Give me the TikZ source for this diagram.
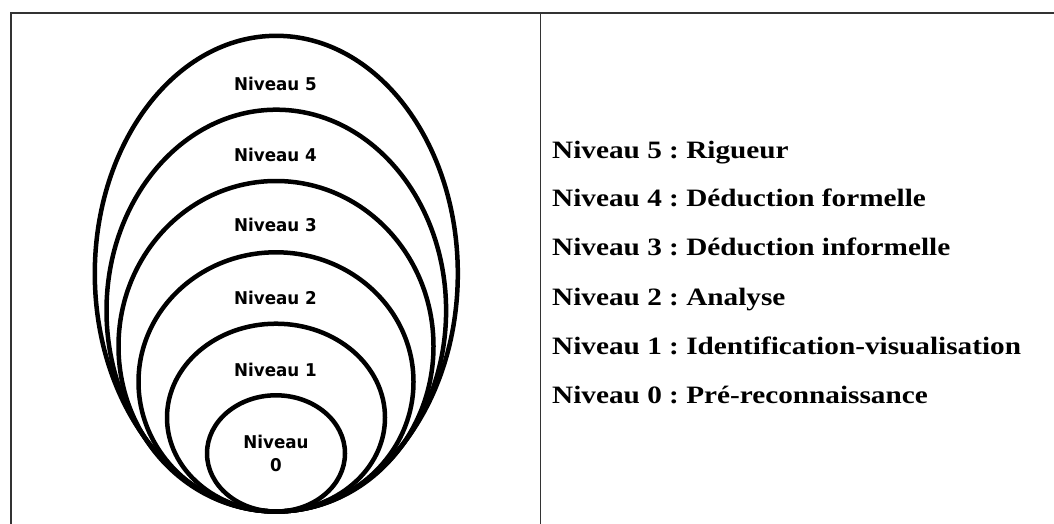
\documentclass[tikz,border=0pt]{standalone}
\usepackage{fontspec}
\usepackage{graphicx}
\newfontfamily\lblfont{DejaVu Sans}
\newfontfamily\rowfont{Liberation Serif}
\newcommand\lbl[1]{\scalebox{0.95}[1]{#1}}
\newcommand\rowtxt[1]{\scalebox{1.17}[1]{#1}}
\frenchspacing
\tikzset{
  rule/.style={draw=black!80, line width=1.4pt},
  lvl/.style={draw=black, line width=4.5pt},
  lbltext/.style={anchor=base, inner sep=0pt, font=\lblfont\bfseries\fontsize{17.6}{20}\selectfont},
  rowtext/.style={anchor=base west, inner sep=0pt, font=\rowfont\bfseries\fontsize{25}{30}\selectfont}
}
\begin{document}
\begin{tikzpicture}[x=1pt, y=-1pt]
\useasboundingbox (0,0) rectangle (1054,524);
% table rules
\coordinate (tl) at (10.8,13.2);
\coordinate (tr) at (1054,13.2);
\coordinate (bl) at (10.8,524);
\coordinate (tm) at (540.3,13.2);
\coordinate (bm) at (540.3,524);
\draw[rule] (bl) -- (tl) -- (tr);
\draw[rule] (tm) -- (bm);
% nested ellipses
\draw[lvl] (276.3,273.65) ellipse [x radius=181.5pt, y radius=237.85pt];
\draw[lvl] (276.3,310.6) ellipse [x radius=169.8pt, y radius=200.9pt];
\draw[lvl] (276,346.25) ellipse [x radius=157.5pt, y radius=165.25pt];
\draw[lvl] (276,381.9) ellipse [x radius=137.5pt, y radius=129.6pt];
\draw[lvl] (276,417.6) ellipse [x radius=109pt, y radius=93.9pt];
\draw[lvl] (276,453.4) ellipse [x radius=69pt, y radius=58.1pt];
% labels in ellipses
\node[lbltext] (l5) at (275.5,90.5) {\lbl{Niveau 5}};
\node[lbltext] (l4) at (275.5,161) {\lbl{Niveau 4}};
\node[lbltext] (l3) at (275.5,231.5) {\lbl{Niveau 3}};
\node[lbltext] (l2) at (275.5,304.5) {\lbl{Niveau 2}};
\node[lbltext] (l1) at (275.5,376) {\lbl{Niveau 1}};
\node[lbltext] (l0a) at (276,448.5) {\lbl{Niveau}};
\node[lbltext] (l0b) at (276,471) {\lbl{0}};
% right column
\node[rowtext] (r5) at (552,158.8) {\rowtxt{Niveau 5 : Rigueur}};
\node[rowtext] (r4) at (552,206.5) {\rowtxt{Niveau 4 : Déduction formelle}};
\node[rowtext] (r3) at (552,255.5) {\rowtxt{Niveau 3 : Déduction informelle}};
\node[rowtext] (r2) at (552,305) {\rowtxt{Niveau 2 : Analyse}};
\node[rowtext] (r1) at (552,354.3) {\rowtxt{Niveau 1 : Identification-visualisation}};
\node[rowtext] (r0) at (552,403.3) {\rowtxt{Niveau 0 : Pré-reconnaissance}};
\end{tikzpicture}
\end{document}
